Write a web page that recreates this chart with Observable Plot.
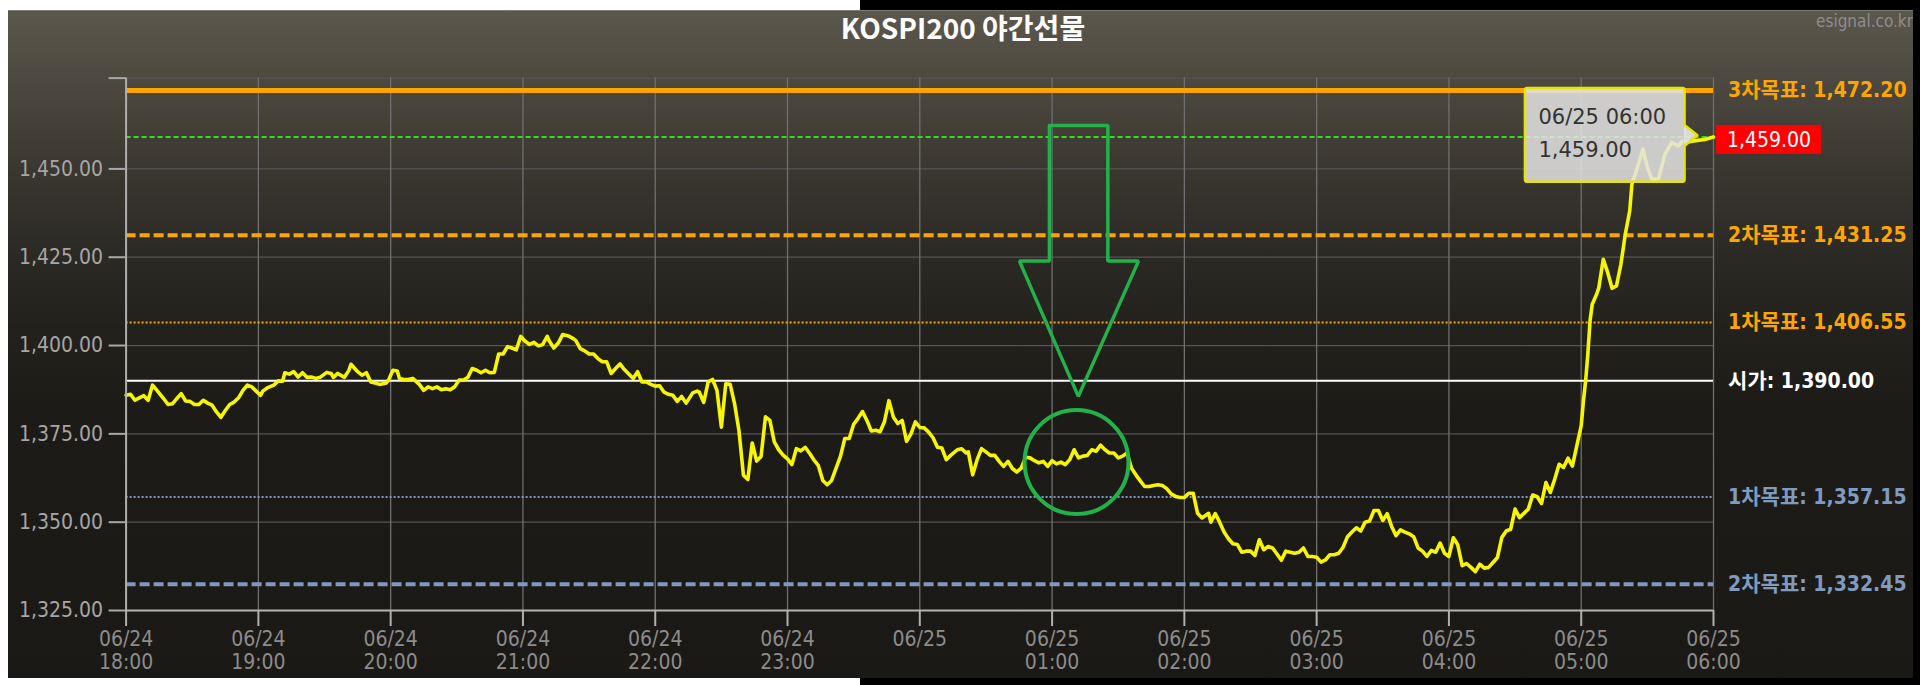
<!DOCTYPE html>
<html><head><meta charset="utf-8">
<script src="https://cdn.jsdelivr.net/npm/d3@7"></script>
<script src="https://cdn.jsdelivr.net/npm/@observablehq/plot@0.6"></script>
<style>
html,body{margin:0;padding:0;background:#000;}
#wrap{position:relative;width:1920px;height:685px;overflow:hidden;background:#000;}
.white{position:absolute;background:#fff;}
#panel{position:absolute;left:8px;top:10px;width:1905px;height:668px;overflow:hidden;
 background:linear-gradient(to bottom,#5b574c 0%,#4b473e 12%,#3a3730 24%,#2c2a25 36%,#23211c 48%,#1d1b17 60%,#1b1915 100%);
 box-shadow: inset 0 1px 0 #7a7a7a;}
#brand{position:absolute;right:0;top:1px;font:17px "DejaVu Sans Condensed","DejaVu Sans",sans-serif;color:#8e8e8e;line-height:20px;}
#title{position:absolute;left:0;width:1926px;top:10px;text-align:center;color:#fff;font:bold 28px "Noto Sans CJK KR",sans-serif;line-height:34px;z-index:3;}
#chart{position:absolute;left:0;top:0;z-index:2;}
</style></head>
<body>
<div id="wrap">
  <div class="white" style="left:0;top:0;width:860px;height:10px"></div>
  <div class="white" style="left:0;top:0;width:8px;height:685px"></div>
  <div class="white" style="left:0;top:678px;width:860px;height:7px"></div>
  <div id="panel"><div id="brand">esignal.co.kr</div></div>
  <div id="title">KOSPI200 야간선물</div>
  <div id="chart"></div>
</div>
<script>
// ---- data: minutes after 06/24 18:00, and price ----
const minutes = [0,2,4,6,8,10,12,14,17,19,21,23,25,27,29,31,33,35,37,39,41,43,45,47,49,51,53,55,57,59,
61,62,64,67,69,71,72,74,76,78,80,82,84,86,88,91,93,94,96,99,101,102,105,107,109,111,113,115,118,119,
121,123,124,126,128,130,133,135,137,139,141,143,145,147,149,151,153,155,157,159,161,163,165,167,169,171,173,175,177,179,
181,183,185,187,189,191,192,194,196,198,201,203,204,206,208,210,212,214,216,218,220,222,224,226,229,230,232,234,236,238,
240,242,244,246,248,250,252,254,257,259,260,262,264,266,268,270,272,274,276,278,280,282,284,286,288,290,292,294,296,298,
300,302,304,306,308,310,312,314,316,318,320,322,324,326,328,330,332,334,336,338,340,342,344,346,348,350,352,354,356,358,
360,362,364,366,368,370,372,374,377,379,381,382,384,386,388,390,392,394,396,398,400,402,404,406,408,410,412,414,416,418,
420,422,424,426,428,430,432,434,436,438,440,442,444,446,448,450,452,454,456,458,460,462,464,466,468,470,472,474,476,478,
480,482,484,486,488,491,492,494,496,498,500,502,504,506,508,510,512,514,516,518,520,522,524,526,528,530,532,534,536,538,
540,542,544,546,548,550,552,554,556,558,560,562,564,566,568,570,572,574,576,578,580,582,584,586,588,590,592,594,596,598,
600,602,604,606,608,610,612,614,616,618,620,622,624,626,628,630,632,634,636,638,640,642,644,646,648,650,652,654,656,658,
660,661,662,663,664,665,667,668,670,672,674,676,678,680,682,683,685,688,690,692,695,698,701,704,706,709,712,716,720];
const prices = [1385.9,1386.2,1384.5,1385.2,1385.8,1384.5,1388.8,1387.3,1385.0,1383.3,1383.5,1385.0,1386.4,1384.3,1384.2,1383.3,1383.3,1384.5,1383.7,1383.1,1381.2,1379.7,1381.6,1383.3,1384.0,1385.2,1387.3,1388.8,1388.3,1387.1,
1385.9,1387.1,1388.0,1388.8,1390.0,1389.9,1392.3,1391.9,1392.6,1391.1,1392.3,1391.0,1391.1,1390.7,1391.0,1392.4,1392.1,1391.0,1392.1,1391.0,1392.9,1394.7,1392.6,1391.6,1392.3,1389.7,1389.4,1389.0,1389.4,1390.2,
1393.0,1392.8,1390.7,1390.4,1390.4,1390.7,1389.0,1387.3,1388.3,1387.8,1388.3,1387.5,1387.8,1387.5,1388.3,1390.2,1390.2,1391.0,1393.5,1393.0,1392.3,1393.0,1392.3,1392.4,1397.6,1397.6,1399.7,1399.3,1398.8,1402.6,
1401.2,1400.3,1400.9,1399.9,1400.3,1402.6,1401.2,1399.3,1400.7,1403.1,1402.6,1401.9,1401.4,1399.1,1398.5,1397.6,1397.6,1396.3,1395.4,1395.4,1392.1,1393.5,1394.8,1393.2,1391.3,1390.7,1392.6,1389.7,1389.7,1389.0,
1388.5,1388.6,1386.8,1386.2,1385.9,1384.2,1385.6,1383.7,1386.6,1387.1,1386.8,1383.9,1389.7,1390.4,1387.3,1376.9,1389.2,1389.0,1383.5,1375.8,1363.3,1362.1,1372.4,1367.3,1368.6,1379.8,1378.8,1372.7,1370.5,1369.0,
1367.9,1366.3,1370.8,1370.2,1371.2,1369.5,1367.6,1366.0,1361.8,1360.6,1361.8,1365.2,1368.6,1373.7,1373.7,1377.7,1379.4,1381.3,1378.8,1375.8,1376.0,1375.6,1378.5,1384.4,1379.8,1377.9,1378.8,1372.9,1375.0,1378.4,
1376.8,1376.7,1375.5,1373.9,1371.2,1371.0,1367.7,1368.9,1370.5,1370.8,1369.6,1369.9,1363.4,1367.7,1370.8,1369.9,1368.9,1368.9,1367.2,1365.8,1367.2,1365.2,1364.2,1365.3,1368.4,1368.2,1367.4,1366.8,1367.2,1365.8,
1367.4,1366.5,1367.0,1366.3,1367.7,1370.5,1368.2,1368.7,1368.9,1370.5,1370.1,1371.8,1370.5,1369.6,1369.6,1368.2,1368.7,1369.6,1365.3,1363.4,1361.7,1360.1,1360.1,1360.4,1360.6,1360.4,1359.5,1358.0,1357.3,1357.0,
1357.0,1358.2,1358.2,1352.5,1351.2,1352.5,1350.0,1352.4,1350.0,1347.2,1345.3,1343.9,1343.7,1341.5,1341.8,1341.8,1340.6,1345.0,1342.2,1343.1,1342.7,1341.0,1339.2,1341.8,1341.5,1341.2,1341.5,1342.7,1340.3,1340.3,
1340.1,1338.7,1339.3,1340.8,1340.8,1341.2,1342.9,1345.9,1347.2,1348.4,1347.5,1350.0,1350.3,1353.3,1353.3,1350.5,1352.4,1348.8,1346.2,1347.8,1347.2,1346.7,1345.9,1342.7,1341.8,1340.3,1342.0,1341.5,1344.1,1341.2,
1340.3,1345.6,1343.6,1337.7,1338.3,1337.2,1336.0,1338.1,1337.0,1337.2,1338.6,1340.0,1345.7,1347.5,1348.0,1353.7,1351.3,1352.5,1353.7,1357.7,1357.2,1355.3,1361.2,1358.4,1362.2,1366.4,1365.5,1368.1,1365.9,1371.6,
1377.3,1384.3,1390.0,1397.5,1407.0,1411.7,1414.5,1416.4,1424.4,1420.7,1416.2,1416.9,1423.0,1431.5,1438.1,1445.7,1449.4,1455.6,1450.4,1447.1,1447.1,1454.2,1457.5,1456.5,1457.9,1457.7,1458.0,1458.3,1459.0];

const levelNames  = ["3차목표","2차목표","1차목표","시가","1차목표","2차목표"];
const levelValues = [1472.20, 1431.25, 1406.55, 1390.00, 1357.15, 1332.45];
const currentLevel = 1459.00;
const yTickValues = [1325, 1350, 1375, 1400, 1425, 1450];
const yTop = 1475.7;
const hourOffsets = [0,60,120,180,240,300,360,420,480,540,600,660,720];

// ---- styles (kept separate from data) ----
const levelStyles = [
  {stroke:"#ffa500", strokeWidth:5,   dash:null,   text:"#ffa500"},
  {stroke:"#ffa500", strokeWidth:4,   dash:"10,4", text:"#ffa500"},
  {stroke:"#ffa500", strokeWidth:2,   dash:"2,2",  text:"#ffa500"},
  {stroke:"#ffffff", strokeWidth:2,   dash:null,   text:"#ffffff"},
  {stroke:"#7e99bd", strokeWidth:2,   dash:"2,2",  text:"#7f9bbf"},
  {stroke:"#7e99bd", strokeWidth:4,   dash:"10,4", text:"#7f9bbf"}
];

const base = Date.UTC(2020, 5, 24, 18, 0);
const T = m => new Date(base + m * 60000);
const data = minutes.map((m, i) => ({t: T(m), v: prices[i]}));
const last = data[data.length - 1];
const fmt2 = d3.format(",.2f");
const fmtDate = d3.utcFormat("%m/%d");
const fmtTime = d3.utcFormat("%H:%M");
const levels = levelNames.map((n, i) => ({name: n, v: levelValues[i], color: levelStyles[i].text}));

// annotation shapes in data coordinates (minutes, price)
const arrowMin = [418.8, 445.3, 445.3, 459.2, 431.9, 405.2, 418.8, 418.8];
const arrowVal = [1462.3, 1462.3, 1423.9, 1423.9, 1385.6, 1423.9, 1423.9, 1462.3];
const arrow = arrowMin.map((m, i) => ({t: T(m), v: arrowVal[i]}));
const circleCenter = [{t: T(431.1), v: 1367.0}];

const green = "#22b24c";
const font = '"DejaVu Sans Condensed","DejaVu Sans","Noto Sans CJK KR",sans-serif';

const marks = [
  Plot.gridY({ticks: [...yTickValues.slice(1), yTop], stroke: "#555", strokeOpacity: 1, strokeWidth: 1.2}),
  Plot.gridX({ticks: hourOffsets.map(T), stroke: "#707070", strokeOpacity: 1, strokeWidth: 1.3}),
];
levelValues.forEach((v, i) => {
  const s = levelStyles[i];
  marks.push(Plot.ruleY([v], {stroke: s.stroke, strokeWidth: s.strokeWidth, strokeDasharray: s.dash || undefined}));
});
marks.push(Plot.ruleY([currentLevel], {stroke: "#33dd22", strokeWidth: 2, strokeDasharray: "5,3"}));
marks.push(
  Plot.line(data, {x: "t", y: "v", stroke: "#f6f600", strokeWidth: 3.6, strokeLinejoin: "round"}),
  Plot.line(arrow, {x: "t", y: "v", stroke: green, strokeWidth: 3.5, strokeLinejoin: "miter"}),
  Plot.dot(circleCenter, {x: "t", y: "v", r: 52, stroke: green, strokeWidth: 4, fill: "none"}),
  Plot.ruleX([T(0)], {stroke: "#adadad", strokeWidth: 2}),
  Plot.ruleY([yTickValues[0]], {stroke: "#b3b3b3", strokeWidth: 2}),
  Plot.axisY({ticks: [...yTickValues, yTop], tickFormat: d => d > 1460 ? "" : fmt2(d),
    tickSize: 17, tickPadding: 6, fontSize: 21, stroke: "#a8a8a8", strokeWidth: 2, fill: "#a6a6a6", label: null}),
  Plot.axisX({ticks: hourOffsets.map(T),
    tickFormat: d => d.getUTCHours() === 0 ? fmtDate(d) : fmtDate(d) + "\n" + fmtTime(d),
    tickSize: 16, tickPadding: 2, fontSize: 21, lineHeight: 1.14, stroke: "#b0b0b0", strokeWidth: 2, fill: "#8c8c8c", label: null}),
  // tooltip
  Plot.rect([{x1: T(634.7), x2: T(707.1), y1: 1446.2, y2: 1472.75}], {x1: "x1", x2: "x2", y1: "y1", y2: "y2",
    fill: "#e3e3e3", fillOpacity: 0.86, stroke: "#e6e600", strokeWidth: 2.5, rx: 2}),
  Plot.areaY([{t: T(706.8), lo: 1456.6, hi: 1462.3}, {t: T(712.7), lo: 1459.5, hi: 1459.5}],
    {x: "t", y1: "lo", y2: "hi", fill: "#e3e3e3", fillOpacity: 0.95}),
  Plot.line([{t: T(707.1), v: 1462.3}, {t: T(712.7), v: 1459.5}, {t: T(707.1), v: 1456.6}],
    {x: "t", y: "v", stroke: "#e6e600", strokeWidth: 2.5}),
  Plot.text([last], {x: () => T(640.6), y: () => 1464.5, text: d => fmtDate(d.t) + " " + fmtTime(d.t),
    textAnchor: "start", fill: "#333", fontSize: 21, fontFamily: '"DejaVu Sans",sans-serif'}),
  Plot.text([last], {x: () => T(640.6), y: () => 1455.2, text: d => fmt2(d.v),
    textAnchor: "start", fill: "#333", fontSize: 21, fontFamily: '"DejaVu Sans",sans-serif'}),
  // current value box
  Plot.rect([{x1: T(721.4), x2: T(769), y1: 1454.1, y2: 1462.3}], {x1: "x1", x2: "x2", y1: "y1", y2: "y2", fill: "#ff0000"}),
  Plot.text([last], {x: () => T(745.2), y: () => 1458.2, text: d => fmt2(d.v), fill: "#fff", fontSize: 21, textAnchor: "middle"}),
  // level labels
  Plot.text(levels, {x: () => T(720), y: "v", text: d => `${d.name}: ${fmt2(d.v)}`, dx: 14.6, textAnchor: "start",
    fill: "color", fontSize: 21, fontWeight: "bold"})
);

const chart = Plot.plot({
  width: 1920, height: 685,
  marginLeft: 125.6, marginRight: 207, marginTop: 77.6, marginBottom: 75,
  x: {type: "utc", domain: [T(0), T(720)]},
  y: {domain: [yTickValues[0], yTop]},
  color: {type: "identity"},
  style: {background: "transparent", color: "#a6a6a6", fontFamily: font, overflow: "visible"},
  marks
});
document.getElementById("chart").appendChild(chart);
</script>
</body></html>
